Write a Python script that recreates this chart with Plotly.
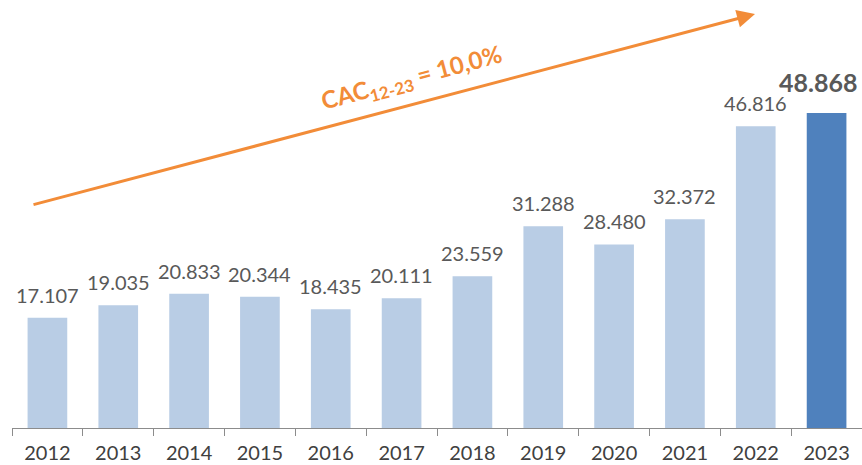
import plotly.graph_objects as go

years = ["2012","2013","2014","2015","2016","2017","2018","2019","2020","2021","2022","2023"]
values = [17107, 19035, 20833, 20344, 18435, 20111, 23559, 31288, 28480, 32372, 46816, 48868]
bar_colors = ["#B9CDE5"] * 11 + ["#4F81BD"]
cac_text = "CAC<sub>12-23</sub> = 10,0%"


def fmt(v):
    return f"{v:,}".replace(",", ".")


fig = go.Figure(go.Bar(
    x=years, y=values,
    marker=dict(color=bar_colors, line=dict(width=0)),
    width=0.56,
    hoverinfo="skip",
))

annotations = []
for i, v in enumerate(values):
    last = i == len(values) - 1
    annotations.append(dict(
        x=i, y=v, xref="x", yref="y", text=fmt(v), showarrow=False,
        yanchor="bottom", yshift=9 if not last else 14, xshift=0 if not last else -9,
        font=dict(size=25 if last else 20, color="#595959", family="Lato",
                  weight=700 if last else 400),
    ))

annotations += [
    dict(xref="x domain", yref="y domain", x=(755 - 12) / 850, y=(428 - 14) / 428,
         ax=(32 - 12) / 850, ay=(428 - 205) / 428, axref="x domain", ayref="y domain",
         showarrow=True, arrowhead=2, arrowsize=1.2, arrowwidth=3, arrowcolor="#F28C38",
         text=""),
    dict(xref="x domain", yref="y domain", x=(412 - 12) / 850, y=(428 - 36) / 428,
         text=cac_text, showarrow=False, textangle=-15,
         font=dict(size=24, color="#F28C38", family="Lato", weight=700)),
]

fig.update_layout(
    width=862, height=465,
    margin=dict(l=12, r=0, t=0, b=37, autoexpand=False),
    paper_bgcolor="white", plot_bgcolor="white",
    showlegend=False,
    xaxis=dict(
        type="category", automargin=False, range=[-0.5, len(years) - 0.5],
        showline=True, linecolor="#8C8C8C", linewidth=1,
        ticks="outside", ticklen=7, tickcolor="#8C8C8C", tickson="boundaries",
        ticklabelstandoff=7,
        tickfont=dict(size=20, color="#404040", family="Lato"),
        showgrid=False,
    ),
    yaxis=dict(range=[0, 66400], visible=False, showgrid=False, automargin=False),
    annotations=annotations,
)

fig.write_html("out.html", config={"displayModeBar": False, "staticPlot": True},
               post_script="document.body.style.margin='0';document.body.style.padding='0';")
